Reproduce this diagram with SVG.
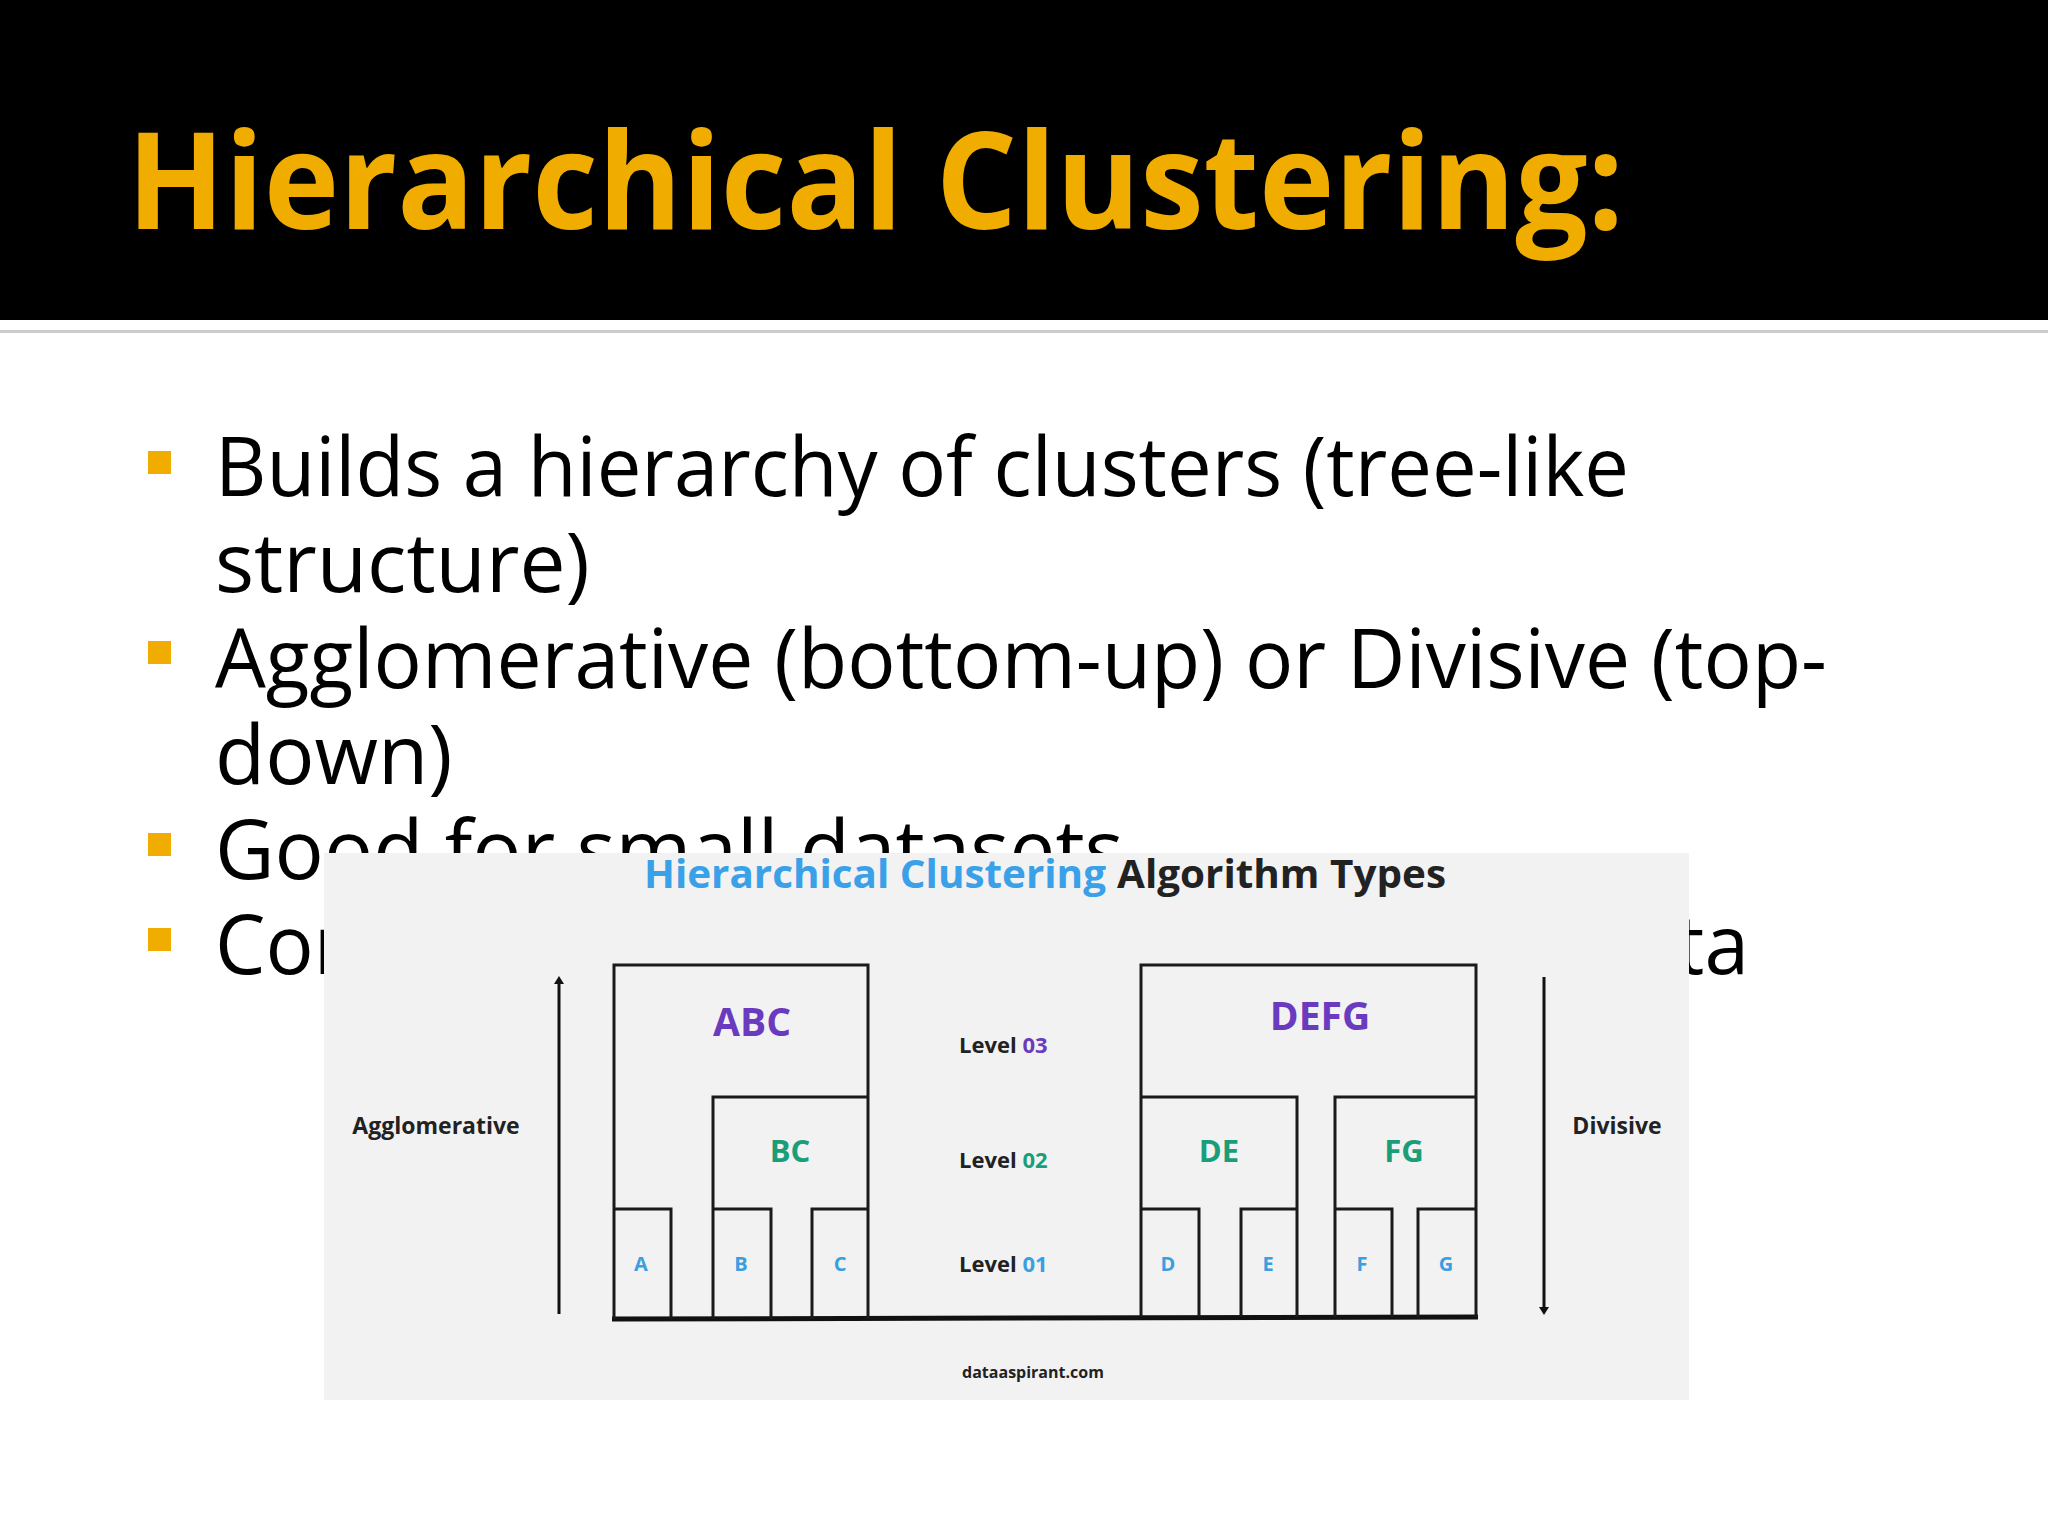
<svg xmlns="http://www.w3.org/2000/svg" width="2048" height="1536" viewBox="0 0 2048 1536">
<style>
.b{font-family:"Open Sans","Noto Sans",sans-serif;font-size:82px;fill:#000}
.bul{fill:#f0ad00}
.f{font-family:"Open Sans","Noto Sans",sans-serif;font-weight:bold}
.bx{fill:none;stroke:#1a1a1a;stroke-width:3}
.pu{fill:#6a3bbf}.gr{fill:#1a9e7a}.bl{fill:#3a9ee0}
</style>
<defs><marker id="ah" markerWidth="8" markerHeight="10" refX="4" refY="5" orient="auto" markerUnits="userSpaceOnUse" viewBox="0 0 8 10"><path d="M0,0 L8,5 L0,10 Z" fill="#111"/></marker></defs>
<rect width="2048" height="1536" fill="#fff"/>
<g id="header">
<rect x="0" y="0" width="2048" height="320" fill="#000"/>
<rect x="0" y="330" width="2048" height="3" fill="#ccc"/>
<text x="127" y="229" font-family="'Open Sans','Noto Sans',sans-serif" font-weight="bold" font-size="134" fill="#f0ad00" textLength="1497" lengthAdjust="spacingAndGlyphs">Hierarchical Clustering:</text>
</g>
<g id="bullets">
<rect class="bul" x="148" y="451" width="23" height="23"/>
<rect class="bul" x="148" y="641" width="23" height="23"/>
<rect class="bul" x="148" y="833" width="23" height="23"/>
<rect class="bul" x="148" y="928" width="23" height="23"/>
<text class="b" x="215" y="496" textLength="1414" lengthAdjust="spacingAndGlyphs">Builds a hierarchy of clusters (tree-like</text>
<text class="b" x="215" y="592">structure)</text>
<text class="b" x="215" y="688" textLength="1612" lengthAdjust="spacingAndGlyphs">Agglomerative (bottom-up) or Divisive (top-</text>
<text class="b" x="215" y="784">down)</text>
<text class="b" x="215" y="879">Good for small datasets</text>
<text class="b" x="215" y="974" textLength="1534" lengthAdjust="spacingAndGlyphs">Computationally expensive for large data</text>
</g>
<g id="panel">
<rect x="324" y="853" width="1365" height="547" fill="#f2f2f2"/>
<text class="f" x="644" y="888" font-size="39" fill="#3aa0e8" textLength="462" lengthAdjust="spacingAndGlyphs">Hierarchical Clustering</text>
<text class="f" x="1117" y="888" font-size="39" fill="#222" textLength="329" lengthAdjust="spacingAndGlyphs">Algorithm Types</text>
</g>
<g id="connectors">
<line x1="559" y1="1314" x2="559" y2="980" stroke="#111" stroke-width="3" marker-end="url(#ah)"/>
<line x1="1544" y1="977" x2="1544" y2="1311" stroke="#111" stroke-width="3" marker-end="url(#ah)"/>
<line x1="612" y1="1319" x2="1478" y2="1317" stroke="#111" stroke-width="5"/>
</g>
<g id="abc"><path class="bx" d="M614,1319 V965 H868 V1319"/><text class="f pu" x="752" y="1036" font-size="39" text-anchor="middle">ABC</text></g>
<g id="bc"><path class="bx" d="M713,1319 V1097 H868"/><text class="f gr" x="790" y="1162" font-size="31" text-anchor="middle">BC</text></g>
<g id="a"><path class="bx" d="M614,1209 H671 V1319"/><text class="f bl" x="641" y="1271" font-size="20" text-anchor="middle">A</text></g>
<g id="b"><path class="bx" d="M713,1209 H771 V1319"/><text class="f bl" x="741" y="1271" font-size="20" text-anchor="middle">B</text></g>
<g id="c"><path class="bx" d="M812,1319 V1209 H868"/><text class="f bl" x="840" y="1271" font-size="20" text-anchor="middle">C</text></g>
<g id="defg"><path class="bx" d="M1141,1317 V965 H1476 V1317 M1141,1097 H1297 V1317 M1335,1317 V1097 H1476"/><text class="f pu" x="1320" y="1030" font-size="39" text-anchor="middle">DEFG</text></g>
<g id="de"><text class="f gr" x="1219" y="1162" font-size="31" text-anchor="middle">DE</text></g>
<g id="fg"><text class="f gr" x="1404" y="1162" font-size="31" text-anchor="middle">FG</text></g>
<g id="d"><path class="bx" d="M1141,1209 H1199 V1317"/><text class="f bl" x="1168" y="1271" font-size="20" text-anchor="middle">D</text></g>
<g id="e"><path class="bx" d="M1241,1317 V1209 H1297"/><text class="f bl" x="1268" y="1271" font-size="20" text-anchor="middle">E</text></g>
<g id="f"><path class="bx" d="M1335,1209 H1392 V1317"/><text class="f bl" x="1362" y="1271" font-size="20" text-anchor="middle">F</text></g>
<g id="g"><path class="bx" d="M1418,1317 V1209 H1476"/><text class="f bl" x="1446" y="1271" font-size="20" text-anchor="middle">G</text></g>
<g id="levels" class="f" font-size="22" fill="#222">
<text x="959" y="1053">Level <tspan class="pu">03</tspan></text>
<text x="959" y="1168">Level <tspan class="gr">02</tspan></text>
<text x="959" y="1272">Level <tspan class="bl">01</tspan></text>
</g>
<g id="labels" class="f" fill="#222">
<text x="436" y="1134" font-size="23" text-anchor="middle">Agglomerative</text>
<text x="1617" y="1134" font-size="23" text-anchor="middle">Divisive</text>
<text x="1033" y="1378" font-size="16" text-anchor="middle">dataaspirant.com</text>
</g>
</svg>
